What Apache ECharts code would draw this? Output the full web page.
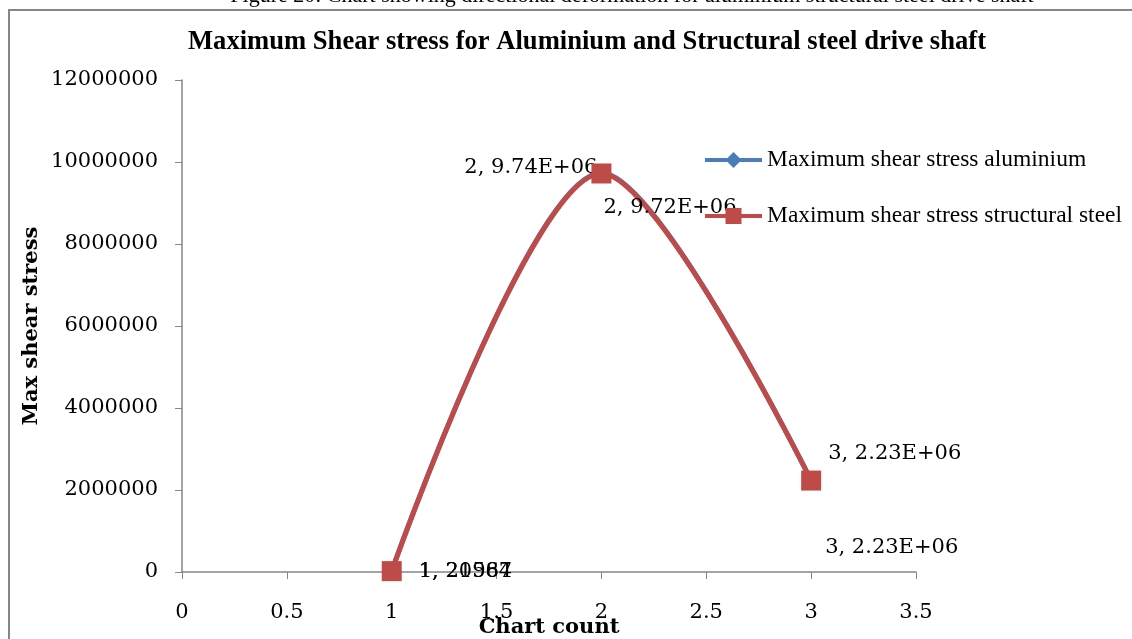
<!DOCTYPE html>
<html>
<head>
<meta charset="utf-8">
<script src="https://cdn.jsdelivr.net/npm/echarts@6/dist/echarts.min.js"></script>
<style>
  html, body { margin: 0; padding: 0; background: #ffffff; }
  #chart { width: 1132px; height: 639px; }
</style>
</head>
<body>
<div id="chart"></div>
<script>
// Chart values
const chartCount = [1, 2, 3];
const aluminiumStress = [20964, 9740000, 2230000];
const steelStress = [21587, 9720000, 2230000];
const yTicks = [0, 2000000, 4000000, 6000000, 8000000, 10000000, 12000000];
const xTicks = [0, 0.5, 1, 1.5, 2, 2.5, 3, 3.5];

const serif = '"DejaVu Serif", serif';
const times = '"Liberation Serif", "Times New Roman", serif';

// Excel-style "x, y" label with scientific notation for large values
function fmtValue(v) {
  if (Math.abs(v) >= 1e6) {
    const [m, e] = v.toExponential(2).split('e');
    const sign = e[0] === '-' ? '-' : '+';
    const exp = e.replace(/[+-]/, '').padStart(2, '0');
    return m + 'E' + sign + exp;
  }
  return String(v);
}
function pointLabel(p) { return p.value[0] + ', ' + fmtValue(p.value[1]); }

// Label placement for each point (index aligned with chartCount)
const aluLabelPos = [
  { position: 'right', distance: 0, offset: [20, 0] },
  { position: 'left', distance: 0, offset: [3, -5] },
  { position: 'right', distance: 0, offset: [7, 67] }
];
const steelLabelPos = [
  { position: 'right', distance: 0, offset: [17, 0] },
  { position: 'right', distance: 0, offset: [-8, 34] },
  { position: 'right', distance: 0, offset: [7, -27] }
];

function buildData(values, labels) {
  return chartCount.map((x, i) => ({ value: [x, values[i]], label: labels[i] }));
}

const labelText = { show: true, formatter: pointLabel, fontFamily: serif, fontSize: 21, color: '#000' };

const chart = echarts.init(document.getElementById('chart'), null, { renderer: 'canvas' });
chart.setOption({
  animation: false,
  backgroundColor: '#ffffff',
  title: {
    text: 'Maximum Shear stress for Aluminium and Structural steel drive shaft',
    left: 183,
    top: 24,
    textStyle: { fontFamily: times, fontWeight: 'bold', fontSize: 26.6, color: '#000' }
  },
  graphic: [
    {
      type: 'rect', silent: true, z: -1,
      shape: { x: 9, y: 10, width: 1140, height: 650 },
      style: { fill: 'none', stroke: '#868686', lineWidth: 2 }
    },
    {
      type: 'text', silent: true,
      x: 632, y: 7,
      style: {
        text: 'Figure 20: Chart showing directional deformation for aluminium structural steel drive shaft',
        font: '22px ' + times, fill: '#000', align: 'center', verticalAlign: 'bottom'
      }
    }
  ],
  legend: {
    orient: 'vertical',
    left: 698,
    top: 143,
    itemWidth: 57,
    itemHeight: 20,
    itemGap: 32,
    lineStyle: { width: 4 },
    textStyle: { fontFamily: times, fontSize: 23.5, color: '#000' },
    data: ['Maximum shear stress aluminium', 'Maximum shear stress structural steel']
  },
  grid: { left: 182, right: 216, top: 80, bottom: 67, containLabel: false, outerBoundsMode: 'none' },
  xAxis: {
    type: 'value',
    min: xTicks[0],
    max: xTicks[xTicks.length - 1],
    interval: 0.5,
    name: 'Chart count',
    nameLocation: 'middle',
    nameGap: 45,
    nameMoveOverlap: false,
    nameTextStyle: { fontFamily: serif, fontWeight: 'bold', fontSize: 21, color: '#000' },
    axisLine: { show: true, onZero: false, lineStyle: { color: '#868686', width: 1.5 } },
    axisTick: { show: true, length: 7, inside: false, lineStyle: { color: '#868686' } },
    axisLabel: { fontFamily: serif, fontSize: 21, color: '#000', margin: 30, formatter: v => String(v) },
    splitLine: { show: false }
  },
  yAxis: {
    type: 'value',
    min: yTicks[0],
    max: yTicks[yTicks.length - 1],
    interval: 2000000,
    name: 'Max shear stress',
    nameLocation: 'middle',
    nameGap: 140,
    nameMoveOverlap: false,
    nameTextStyle: { fontFamily: serif, fontWeight: 'bold', fontSize: 21, color: '#000' },
    axisLine: { show: true, lineStyle: { color: '#868686', width: 1.5 } },
    axisTick: { show: true, length: 7, inside: false, lineStyle: { color: '#868686' } },
    axisLabel: { fontFamily: serif, fontSize: 21, color: '#000', margin: 24, formatter: v => String(v) },
    splitLine: { show: false }
  },
  series: [
    {
      name: 'Maximum shear stress aluminium',
      type: 'line',
      smooth: 0.3,
      data: buildData(aluminiumStress, aluLabelPos),
      symbol: 'diamond',
      symbolSize: 14,
      lineStyle: { color: '#4a7ebb', width: 5 },
      itemStyle: { color: '#4a7ebb' },
      label: labelText,
      z: 2
    },
    {
      name: 'Maximum shear stress structural steel',
      type: 'line',
      smooth: 0.3,
      data: buildData(steelStress, steelLabelPos),
      symbol: 'rect',
      symbolSize: 20,
      lineStyle: { color: '#be4b48', width: 5 },
      itemStyle: { color: '#be4b48' },
      label: labelText,
      z: 3
    }
  ]
});
</script>
</body>
</html>
